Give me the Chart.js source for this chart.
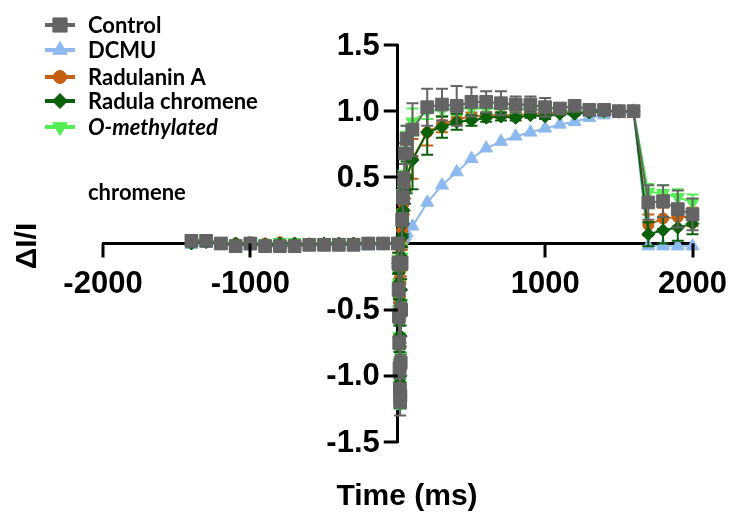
<!DOCTYPE html>
<html>
<head>
<meta charset="utf-8">
<script src="https://cdn.jsdelivr.net/npm/chart.js@4.4.0/dist/chart.umd.min.js"></script>
<style>
  html, body { margin: 0; padding: 0; background: #fff; }
  #wrap { position: relative; width: 735px; height: 525px; }
</style>
</head>
<body>
<div id="wrap"><canvas id="chart" width="735" height="525"></canvas></div>
<script>
// time points (ms)
const times = [-1400, -1300, -1200, -1100, -1000, -900, -800, -700, -600, -500, -400, -300, -200, -100,
  0, 4, 6, 8, 10, 12, 14, 16, 18, 20, 23, 26, 30, 35, 40, 50, 60, 100,
  200, 300, 400, 500, 600, 700, 800, 900, 1000, 1100, 1200, 1300, 1400, 1500, 1600,
  1700, 1800, 1900, 2000];

const seriesNames = ['Control', 'DCMU', 'Radulanin A', 'Radula chromene', 'O-methylated'];

const control = [0.02, 0.02, 0.0, -0.02, 0.0, -0.02, -0.02, -0.02, -0.01, -0.01, -0.01, -0.01, 0.0, 0.0,
  0.0, -0.15, -0.35, -0.55, -0.75, -0.95, -1.1, -1.2, -1.15, -0.9, -0.5, -0.15, 0.18, 0.35, 0.48, 0.68, 0.79, 0.86,
  1.03, 1.05, 1.04, 1.07, 1.07, 1.06, 1.05, 1.05, 1.03, 1.02, 1.04, 1.01, 1.01, 1.0, 1.0,
  0.31, 0.32, 0.26, 0.22];
const controlErr = [0.02, 0.02, 0.02, 0.02, 0.02, 0.02, 0.02, 0.02, 0.02, 0.02, 0.02, 0.02, 0.02, 0.02,
  0, 0.05, 0.05, 0.05, 0.05, 0.06, 0.08, 0.1, 0.08, 0.06, 0.05, 0.05, 0.05, 0.05, 0.06, 0.08, 0.1, 0.2,
  0.14, 0.12, 0.15, 0.11, 0.08, 0.09, 0.06, 0.06, 0.07, 0.03, 0.02, 0.01, 0.01, 0.01, 0,
  0.13, 0.12, 0.14, 0.12];

const dcmu = [-0.01, 0.0, -0.01, -0.01, -0.02, -0.01, -0.01, -0.01, -0.02, -0.01, -0.01, -0.01, -0.02, -0.01,
  0.0, 0.0, 0.0, 0.01, 0.01, 0.01, 0.01, 0.02, 0.02, 0.02, 0.02, 0.03, 0.03, 0.04, 0.05, 0.06, 0.08, 0.13,
  0.31, 0.44, 0.54, 0.64, 0.72, 0.77, 0.81, 0.84, 0.87, 0.90, 0.92, 0.95, 0.97, 0.98, 1.0,
  -0.02, -0.02, -0.02, -0.02];

const radulaninA = [0.01, 0.01, 0.0, 0.0, 0.01, 0.0, 0.01, 0.0, 0.0, -0.01, 0.0, 0.0, 0.0, 0.0,
  0.0, -0.12, -0.28, -0.42, -0.5, -0.5, -0.45, -0.4, -0.3, -0.2, -0.1, 0.0, 0.1, 0.2, 0.3, 0.42, 0.5, 0.64,
  0.84, 0.90, 0.94, 0.96, 0.97, 0.97, 0.97, 0.98, 0.98, 0.99, 0.99, 1.0, 1.0, 1.0, 1.0,
  0.14, 0.19, 0.20, 0.20];
const radulaninAErr = [0.01, 0.01, 0.01, 0.01, 0.01, 0.01, 0.01, 0.01, 0.01, 0.01, 0.01, 0.01, 0.01, 0.01,
  0, 0.05, 0.05, 0.05, 0.05, 0.05, 0.05, 0.05, 0.05, 0.05, 0.05, 0.05, 0.06, 0.06, 0.08, 0.08, 0.1, 0.15,
  0.1, 0.06, 0.04, 0.03, 0.02, 0.02, 0.02, 0.01, 0.01, 0.01, 0.01, 0, 0, 0, 0,
  0.08, 0.08, 0.07, 0.07];

const radulaChromene = [0.0, 0.01, 0.0, 0.0, 0.0, -0.01, 0.0, 0.0, -0.01, 0.0, 0.0, 0.0, 0.0, 0.0,
  0.0, -0.15, -0.3, -0.5, -0.7, -0.9, -1.05, -1.15, -1.0, -0.7, -0.35, -0.1, 0.05, 0.15, 0.25, 0.4, 0.5, 0.63,
  0.84, 0.88, 0.92, 0.93, 0.95, 0.96, 0.95, 0.97, 0.96, 0.98, 0.98, 0.99, 1.0, 1.0, 1.0,
  0.07, 0.10, 0.12, 0.15];
const radulaChromeneErr = [0.01, 0.01, 0.01, 0.01, 0.01, 0.01, 0.01, 0.01, 0.01, 0.01, 0.01, 0.01, 0.01, 0.01,
  0, 0.08, 0.08, 0.08, 0.08, 0.08, 0.08, 0.08, 0.08, 0.08, 0.08, 0.08, 0.08, 0.08, 0.1, 0.1, 0.12, 0.22,
  0.17, 0.08, 0.06, 0.04, 0.03, 0.03, 0.02, 0.02, 0.02, 0.01, 0.01, 0.01, 0, 0, 0,
  0.09, 0.1, 0.1, 0.08];

const oMethylated = [0.03, 0.03, 0.01, 0.0, 0.01, 0.0, 0.01, 0.01, 0.0, 0.01, 0.01, 0.01, 0.01, 0.01,
  0.01, -0.12, -0.3, -0.5, -0.7, -0.9, -1.05, -1.15, -1.1, -0.85, -0.45, -0.1, 0.2, 0.38, 0.5, 0.7, 0.82, 0.92,
  1.0, 1.01, 1.02, 1.02, 1.02, 1.02, 1.02, 1.01, 1.01, 1.0, 1.0, 1.0, 1.0, 1.0, 1.0,
  0.39, 0.38, 0.35, 0.31];
const oMethylatedErr = [0.01, 0.01, 0.01, 0.01, 0.01, 0.01, 0.01, 0.01, 0.01, 0.01, 0.01, 0.01, 0.01, 0.01,
  0, 0.1, 0.1, 0.1, 0.1, 0.1, 0.1, 0.1, 0.1, 0.1, 0.1, 0.1, 0.05, 0.05, 0.05, 0.06, 0.07, 0.1,
  0.06, 0.05, 0.05, 0.05, 0.04, 0.04, 0.04, 0.03, 0.03, 0.02, 0.02, 0.01, 0.01, 0.01, 0,
  0.06, 0.06, 0.06, 0.06];

const xTicks = [-2000, -1000, 0, 1000, 2000];
const yTicks = [-1.5, -1.0, -0.5, 0, 0.5, 1.0, 1.5];

const tickFont = { family: "'Liberation Sans', Arial, sans-serif", size: 31, weight: 'bold' };

function points(vals) {
  return times.map((t, i) => ({ x: t, y: vals[i] }));
}

function series(label, vals, errs, color, style, radius, order, rotation) {
  return {
    label,
    data: points(vals),
    errors: errs,
    borderColor: color,
    backgroundColor: color,
    pointBackgroundColor: color,
    pointBorderColor: color,
    borderWidth: 2,
    pointBorderWidth: 1,
    pointStyle: style,
    pointRadius: radius,
    pointRotation: rotation || 0,
    tension: 0,
    clip: false,
    order
  };
}

const datasets = [
  series(seriesNames[0], control, controlErr, '#646464', 'rect', 9, 0),
  series(seriesNames[1], dcmu, null, '#8DB9EE', 'triangle', 7.5, 4),
  series(seriesNames[2], radulaninA, radulaninAErr, '#C55F12', 'circle', 5.5, 3),
  series(seriesNames[3], radulaChromene, radulaChromeneErr, '#0A610A', 'rectRot', 6.5, 1),
  series(seriesNames[4], oMethylated, oMethylatedErr, '#52EE52', 'triangle', 7.5, 2, 180)
];

// vertical error bars, drawn just under each dataset's own markers
const errorBars = {
  id: 'errorBars',
  beforeDatasetDraw(chart, args) {
    const ds = chart.data.datasets[args.index];
    if (!ds.errors) return;
    const ctx = chart.ctx;
    const yScale = chart.scales.y;
    ctx.save();
    ctx.strokeStyle = ds.borderColor;
    ctx.lineWidth = 2;
    args.meta.data.forEach((pt, i) => {
      const e = ds.errors[i];
      if (!e) return;
      const v = ds.data[i].y;
      const top = yScale.getPixelForValue(v + e);
      const bot = yScale.getPixelForValue(v - e);
      const w = 6;
      ctx.beginPath();
      ctx.moveTo(pt.x, top); ctx.lineTo(pt.x, bot);
      ctx.moveTo(pt.x - w, top); ctx.lineTo(pt.x + w, top);
      ctx.moveTo(pt.x - w, bot); ctx.lineTo(pt.x + w, bot);
      ctx.stroke();
    });
    ctx.restore();
  }
};

// tick marks, legend at top left, y tick labels (left of the crossing axis) and axis titles
const annotations = {
  id: 'annotations',
  afterDraw(chart) {
    const ctx = chart.ctx;
    const xs = chart.scales.x, ys = chart.scales.y;
    const x0 = xs.getPixelForValue(0), y0 = ys.getPixelForValue(0);
    const len = 14;
    ctx.save();

    ctx.fillStyle = '#000';
    xTicks.forEach(v => {
      if (v === 0) return;
      const px = Math.round(xs.getPixelForValue(v));
      ctx.fillRect(px - 1.5, y0, 3, len);
    });
    yTicks.forEach(v => {
      if (v === 0) return;
      const py = Math.round(ys.getPixelForValue(v));
      ctx.fillRect(x0 - len, py - 1.5, len, 3);
    });

    const rowY = [25, 50, 77, 101, 127];
    chart.data.datasets.forEach((ds, i) => {
      const y = rowY[i];
      ctx.strokeStyle = ds.borderColor;
      ctx.fillStyle = ds.backgroundColor;
      ctx.lineWidth = 4;
      ctx.beginPath();
      ctx.moveTo(45, y); ctx.lineTo(75, y);
      ctx.stroke();
      ctx.lineWidth = 1;
      Chart.helpers.drawPoint(ctx, {
        pointStyle: ds.pointStyle,
        radius: ds.pointRadius + 1,
        rotation: ds.pointRotation,
        borderWidth: 1
      }, 60, y);
      ctx.fillStyle = '#000';
      ctx.textBaseline = 'middle';
      ctx.textAlign = 'left';
      ctx.font = (i === 4 ? 'italic ' : '') + "bold 22px Lato, 'Open Sans', sans-serif";
      ctx.fillText(ds.label, 88, y + 1);
    });
    ctx.font = "bold 22px Lato, 'Open Sans', sans-serif";
    ctx.fillText('chromene', 88, 193);

    ctx.font = "bold 31px 'Liberation Sans', Arial, sans-serif";
    ctx.textAlign = 'right';
    yTicks.forEach(v => {
      if (v === 0) return;
      ctx.fillText(v.toFixed(1), x0 - 18, ys.getPixelForValue(v) + 1);
    });

    ctx.font = "bold 30px 'Liberation Sans', Arial, sans-serif";
    ctx.textAlign = 'center';
    ctx.fillText('Time (ms)', 407, 497);
    ctx.translate(28, 246);
    ctx.rotate(-Math.PI / 2);
    ctx.fillText('\u0394I/I', 0, 0);
    ctx.restore();
  }
};

new Chart(document.getElementById('chart'), {
  type: 'line',
  data: { datasets },
  options: {
    responsive: false,
    animation: false,
    devicePixelRatio: 1,
    layout: { padding: { left: 103, right: 36, top: 45, bottom: 83 } },
    plugins: { legend: { display: false }, tooltip: { enabled: false } },
    scales: {
      x: {
        type: 'linear',
        min: xTicks[0],
        max: xTicks[xTicks.length - 1],
        position: { y: 0 },
        afterBuildTicks: (scale) => { scale.ticks = xTicks.map(v => ({ value: v })); },
        ticks: {
          color: '#000',
          font: tickFont,
          padding: 8,
          maxRotation: 0,
          callback: (v) => v === 0 ? '' : String(v)
        },
        grid: { drawOnChartArea: false, drawTicks: true, tickLength: 14, color: 'rgba(0,0,0,0)' },
        border: { display: true, color: '#000', width: 3 }
      },
      y: {
        type: 'linear',
        min: yTicks[0],
        max: yTicks[yTicks.length - 1],
        position: { x: 0 },
        afterBuildTicks: (scale) => { scale.ticks = yTicks.map(v => ({ value: v })); },
        ticks: { display: false },
        grid: { drawOnChartArea: false, drawTicks: false, color: 'rgba(0,0,0,0)' },
        border: { display: true, color: '#000', width: 3 }
      }
    }
  },
  plugins: [errorBars, annotations]
});
</script>
</body>
</html>
